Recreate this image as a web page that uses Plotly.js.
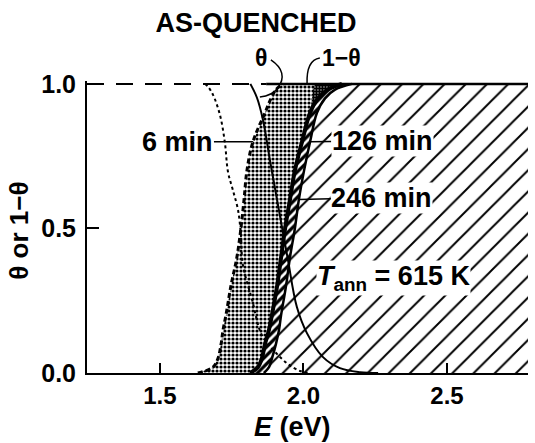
<!DOCTYPE html>
<html>
<head>
<meta charset="utf-8">
<script src="https://cdn.plot.ly/plotly-3.0.1.min.js"></script>
<style>html,body{margin:0;padding:0;background:#fff;} #plot{width:535px;height:443px;}</style>
</head>
<body>
<div id="plot"></div>
<script>
// occupancy levels at which the shaded-region edges were read
const thetaLevels = [0, 0.02, 0.05, 0.1, 0.15, 0.2, 0.3, 0.4, 0.5, 0.6, 0.7, 0.8, 0.9, 0.95, 0.98, 1.0];
// edge energies (eV) of the shaded regions (1-θ curves)
const edge6minE   = [1.632, 1.685, 1.702, 1.713, 1.720, 1.730, 1.747, 1.768, 1.782, 1.793, 1.803, 1.824, 1.866, 1.887, 1.904, 1.929];
const edge126minE = [1.814, 1.841, 1.855, 1.866, 1.880, 1.890, 1.908, 1.922, 1.936, 1.953, 1.970, 1.995, 2.023, 2.051, 2.085, 2.134];
const edge246minE = [1.862, 1.880, 1.890, 1.904, 1.915, 1.922, 1.939, 1.953, 1.970, 1.984, 2.002, 2.023, 2.047, 2.075, 2.110, 2.169];
// dark patch near the top
const darkLevels = [0.9, 0.95, 0.98, 1.0];
const darkLeftE  = [2.023, 2.030, 2.034, 2.040];
const darkRightE = [2.023, 2.051, 2.085, 2.134];
// θ curve, as-quenched (solid)
const thetaAQ_E = [1.815, 1.838, 1.859, 1.883, 1.908, 1.929, 1.946, 1.977, 2.012, 2.068, 2.127, 2.197, 2.260];
const thetaAQ   = [1.0, 0.952, 0.875, 0.737, 0.599, 0.484, 0.391, 0.228, 0.138, 0.055, 0.017, 0.003, 0];
// θ curve (dotted)
const thetaDot_E = [1.657, 1.668, 1.685, 1.709, 1.726, 1.737, 1.754, 1.772, 1.782, 1.789, 1.821, 1.855, 1.901, 1.946, 1.988, 2.023];
const thetaDot   = [1.0, 0.99, 0.962, 0.893, 0.799, 0.696, 0.633, 0.564, 0.478, 0.374, 0.253, 0.131, 0.073, 0.031, 0.007, 0];
// θ = 1 plateau lines
const topDashE  = [1.246, 1.87];
const topSolidE = [1.87, 2.782];
const topY      = [1, 1];
const eMin = 1.246, eMax = 2.782;
const xTicks = [1.5, 2.0, 2.5];
const xTickText = ['1.5', '2.0', '2.5'];
const yTicks = [0, 0.5, 1.0];
const yTickText = ['0.0', '0.5', '1.0'];

const rev = a => a.slice().reverse();
const FONT = 'Liberation Sans, Arial, sans-serif';

const traces = [
  // big hatched region right of 246 min edge
  {x: edge246minE.concat([eMax, eMax]), y: thetaLevels.concat([1, 0]), mode: 'lines', fill: 'toself',
   line: {width: 0, color: 'black'}, fillcolor: 'white',
   fillpattern: {shape: '/', size: 15, solidity: 0.13, fgcolor: 'black', bgcolor: 'white'}, hoverinfo: 'skip'},
  // stippled region
  {x: edge6minE.concat(rev(edge126minE)), y: thetaLevels.concat(rev(thetaLevels)), mode: 'lines', fill: 'toself',
   line: {width: 0, color: 'black'}, fillcolor: 'white',
   fillpattern: {shape: '.', size: 4, solidity: 0.5, fgcolor: 'black', bgcolor: 'white'}, hoverinfo: 'skip'},
  // dark patch
  {x: darkLeftE.concat(rev(darkRightE)), y: darkLevels.concat(rev(darkLevels)), mode: 'lines', fill: 'toself',
   line: {width: 0, color: 'black'}, fillcolor: 'white',
   fillpattern: {shape: '.', size: 3, solidity: 0.8, fgcolor: 'black', bgcolor: 'white'}, hoverinfo: 'skip'},
  // narrow hatched band
  {x: edge126minE.concat(rev(edge246minE)), y: thetaLevels.concat(rev(thetaLevels)), mode: 'lines', fill: 'toself',
   line: {width: 0, color: 'black'}, fillcolor: 'black',
   fillpattern: {shape: '/', size: 6, solidity: 0.45, fgcolor: 'white', bgcolor: 'black'}, hoverinfo: 'skip'},
  // edges
  {x: edge6minE, y: thetaLevels, mode: 'lines', line: {color: 'black', width: 3, dash: '5px,3px', shape: 'spline'}},
  {x: edge126minE, y: thetaLevels, mode: 'lines', line: {color: 'black', width: 4, shape: 'spline'}},
  {x: edge246minE, y: thetaLevels, mode: 'lines', line: {color: 'black', width: 2.5, shape: 'spline'}},
  // θ curves
  {x: thetaAQ_E, y: thetaAQ, mode: 'lines', line: {color: 'black', width: 2, shape: 'spline'}},
  {x: thetaDot_E, y: thetaDot, mode: 'lines', line: {color: 'black', width: 2, dash: '3px,3px', shape: 'spline'}},
  // θ = 1 lines
  {x: topDashE, y: topY, mode: 'lines', line: {color: 'black', width: 2, dash: '17px,12px'}},
  {x: topSolidE, y: topY, mode: 'lines', line: {color: 'black', width: 2.5}}
];

function arrowNote(text, x, y, ax, ay) {
  return {text: text, x: x, y: y, xref: 'x', yref: 'y', ax: ax, ay: ay, showarrow: true,
    arrowhead: 0, arrowwidth: 1.5, arrowcolor: 'black', standoff: 0, bgcolor: 'white', borderpad: 0,
    font: {family: FONT, size: 27, color: 'black', weight: 'bold'}};
}

const layout = {
  width: 535, height: 443,
  margin: {l: 87, r: 7, t: 81, b: 70, pad: 0},
  paper_bgcolor: 'white', plot_bgcolor: 'white',
  showlegend: false,
  title: {text: 'AS-QUENCHED', font: {family: FONT, size: 27, color: 'black', weight: 'bold'},
    xref: 'paper', x: 0.383, xanchor: 'center', yref: 'container', y: 0.95, yanchor: 'middle'},
  xaxis: {range: [eMin, eMax], tickvals: xTicks, ticktext: xTickText, ticks: 'inside', ticklen: 10,
    tickwidth: 2, tickcolor: 'black', showline: true, linecolor: 'black', linewidth: 2,
    showgrid: false, zeroline: false, ticklabelstandoff: 0,
    tickfont: {family: FONT, size: 24, color: 'black', weight: 'bold'}},
  yaxis: {range: [0, 1.01], tickvals: yTicks, ticktext: yTickText, ticks: 'inside', ticklen: 12,
    tickwidth: 2, tickcolor: 'black', showline: true, linecolor: 'black', linewidth: 2,
    showgrid: false, zeroline: false, ticklabelstandoff: 4,
    tickfont: {family: FONT, size: 25, color: 'black', weight: 'bold'}},
  annotations: [
    {text: '<i>E</i> (eV)', xref: 'paper', yref: 'paper', x: 0.467, y: -0.185, showarrow: false,
     xanchor: 'center', yanchor: 'middle', font: {family: FONT, size: 27, color: 'black', weight: 'bold'}},
    {text: 'θ or 1−θ', xref: 'paper', yref: 'paper', x: -0.155, y: 0.486, showarrow: false, textangle: -90,
     xanchor: 'center', yanchor: 'middle', font: {family: FONT, size: 26, color: 'black', weight: 'bold'}},
    {text: 'θ', xref: 'paper', yref: 'paper', x: 0.395, y: 1.079, showarrow: false,
     xanchor: 'center', yanchor: 'middle', font: {family: FONT, size: 23, color: 'black', weight: 'bold'}},
    {text: '1−θ', xref: 'paper', yref: 'paper', x: 0.578, y: 1.079, showarrow: false,
     xanchor: 'center', yanchor: 'middle', font: {family: FONT, size: 23, color: 'black', weight: 'bold'}},
    {text: '<i>T</i><sub>ann</sub> = 615 K', xref: 'paper', yref: 'paper', x: 0.695, y: 0.325, showarrow: false,
     xanchor: 'center', yanchor: 'middle', bgcolor: 'white', borderpad: 0,
     font: {family: FONT, size: 27, color: 'black', weight: 'bold'}},
    arrowNote('6 min', edge6minE[11], thetaLevels[11], -75, 0),
    arrowNote('126 min', edge246minE[11], thetaLevels[11], 72, -1),
    arrowNote('246 min', edge246minE[9], thetaLevels[9], 83, -2)
  ],
  shapes: [
    {type: 'path', xref: 'paper', yref: 'paper', path: 'M 0.417 1.072 Q 0.458 1.03 0.433 0.976 Q 0.42 0.95 0.392 0.945',
     line: {color: 'black', width: 1.5}},
    {type: 'path', xref: 'paper', yref: 'paper', path: 'M 0.528 1.079 Q 0.497 1.072 0.499 0.99',
     line: {color: 'black', width: 1.5}}
  ]
};

Plotly.newPlot('plot', traces, layout, {displayModeBar: false, staticPlot: true});
</script>
</body>
</html>
